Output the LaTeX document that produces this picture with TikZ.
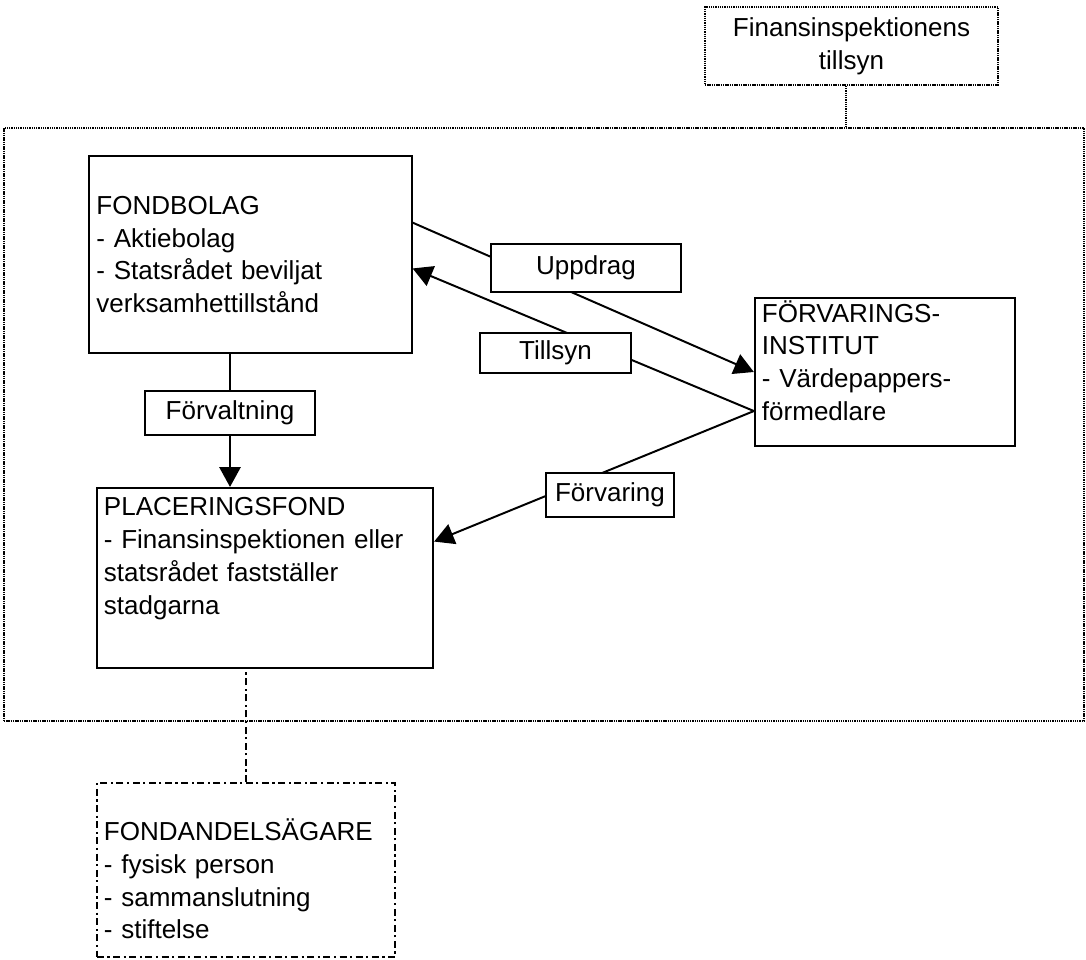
\documentclass[tikz,border=0pt]{standalone}
\usepackage{fontspec}
\setmainfont{Liberation Sans}
\usetikzlibrary{arrows.meta,calc,backgrounds}
\newcommand{\figfont}{\fontsize{18.5}{23.4}\selectfont}
\tikzset{
  box/.style={draw,line width=1.5pt,align=left,inner xsep=5pt,inner ysep=0pt,font=\figfont},
  lbl/.style={draw,fill=white,line width=1.2pt,inner sep=0pt,font=\figfont},
  ram/.style={draw,line width=1.1pt,dash pattern=on 1pt off 0.6pt,inner sep=0pt},
  dashdot/.style={draw,line width=1.2pt,dash pattern=on 5pt off 2.5pt on 1.5pt off 2.5pt},
  arr/.style={-{Triangle[length=14pt,width=15pt]},line width=1.4pt},
}

\begin{document}
\begin{tikzpicture}[x=0.025cm,y=-0.025cm]
  \useasboundingbox (0,0) rectangle (1086,960);
  \node[ram,minimum width=27cm,minimum height=14.825cm] (omrade) at (544,424.5) {};
  \node[ram,font=\figfont,align=center,minimum width=7.325cm,minimum height=1.95cm] (finsyn) at (851.5,46) {Finansinspektionens\\tillsyn};
  \node[box,text width=7.7cm,minimum height=4.925cm] (fondbolag) at (250.5,254.5) {FONDBOLAG\\- Aktiebolag\\- Statsrådet beviljat\\verksamhettillstånd};
  \node[box,text width=6.15cm,minimum height=3.7cm] (forvaring) at (885,372) {FÖRVARINGS-\\INSTITUT\\- Värdepappers-\\förmedlare\\[-7pt]\mbox{}};
  \node[box,text width=8.05cm,minimum height=4.5cm] (placeringsfond) at (265,578) {PLACERINGSFOND\\- Finansinspektionen eller\\statsrådet fastställer\\stadgarna\\[8.5pt]\mbox{}};
  \node[box,dashdot,text width=7.1cm,minimum height=4.35cm] (fondandel) at (246,870) {\rule{0pt}{28pt}FONDANDELSÄGARE\\- fysisk person\\- sammanslutning\\- stiftelse};
  \node[lbl,minimum width=4.75cm,minimum height=1.2cm] (uppdrag) at (586,268) {Uppdrag};
  \node[lbl,minimum width=3.775cm,minimum height=1cm] (tillsyn) at (555.5,353) {Tillsyn};
  \node[lbl,minimum width=4.25cm,minimum height=1.1cm] (forvaltning) at (230,413) {Förvaltning};
  \node[lbl,minimum width=3.2cm,minimum height=1.1cm] (forvaringlbl) at (610,495) {Förvaring};
  \coordinate (fv) at ($(forvaring.north west)!.76!(forvaring.south west)$);
  \begin{scope}[on background layer]
    \draw[ram] ([xshift=-4pt]finsyn.south) -- ([xshift=-4pt]finsyn.south |- omrade.north);
    \draw[arr] ($(fondbolag.north east)!.34!(fondbolag.south east)$) -- (forvaring.west);
    \draw[arr] (fv) -- ($(fondbolag.north east)!.57!(fondbolag.south east)$);
    \draw[arr] (fv) -- ($(placeringsfond.north east)!.3!(placeringsfond.south east)$);
    \draw[arr] (fondbolag.south -| forvaltning) -- (placeringsfond.north -| forvaltning);
    \draw[dashdot] (fondandel.north) -- (fondandel.north |- placeringsfond.south);
  \end{scope}
\end{tikzpicture}
\end{document}
